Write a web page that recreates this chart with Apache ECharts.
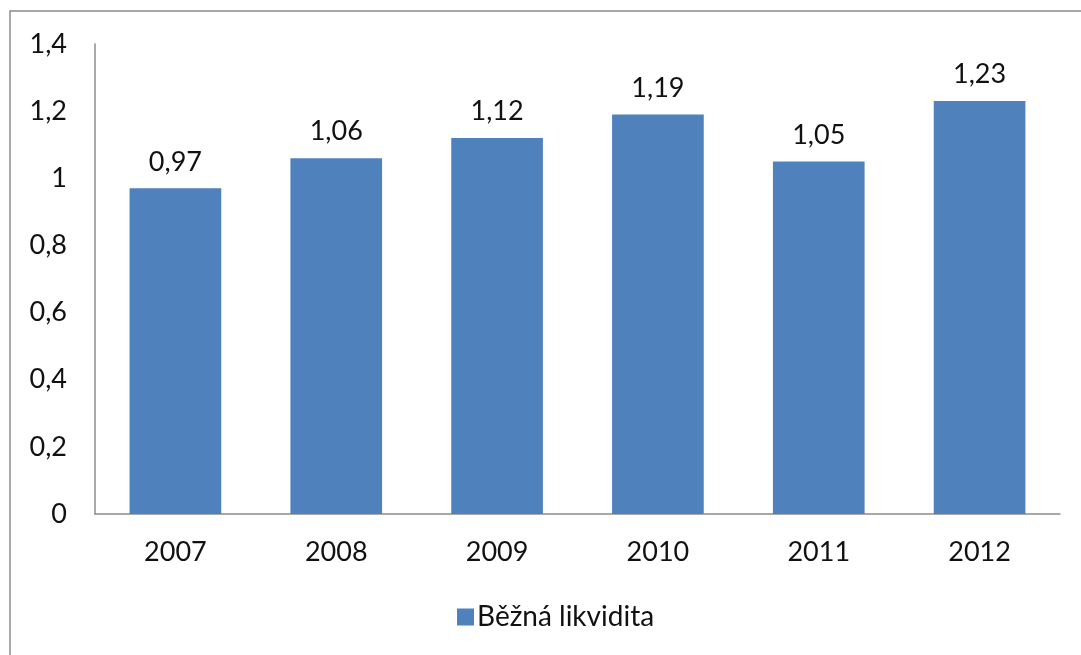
<!DOCTYPE html>
<html><head><meta charset="utf-8">
<script src="https://cdn.jsdelivr.net/npm/echarts@6/dist/echarts.min.js"></script>
<style>html,body{margin:0;padding:0;background:#fff}#c{width:1081px;height:655px}</style>
</head><body><div id="c"></div>
<script>
const categories = ['2007','2008','2009','2010','2011','2012'];
const values = [0.97, 1.06, 1.12, 1.19, 1.05, 1.23];
const seriesName = 'Běžná likvidita';
const fmt = v => String(Math.round(v*100)/100).replace('.', ',');
const FONT = 'Lato';
const chart = echarts.init(document.getElementById('c'));
chart.setOption({
  animation: false,
  backgroundColor: '#fff',
  graphic: [{type:'rect', shape:{x:10, y:11, width:1200, height:800}, style:{fill:'none', stroke:'#8c8c8c', lineWidth:1.5}, silent:true}],
  grid: {left:95, right:21, top:44, bottom:141, containLabel:false},
  legend: {top:603, left:457, padding:0, itemWidth:17, itemHeight:17, itemGap:4, icon:'rect',
    textStyle:{fontFamily:FONT, fontSize:28, color:'#111', padding:[0,0,0,-2]}, data:[seriesName]},
  xAxis: {type:'category', data:categories,
    axisLine:{lineStyle:{color:'#8c8c8c', width:1.5}}, axisTick:{show:false},
    axisLabel:{fontFamily:FONT, fontSize:27, color:'#111', margin:25}},
  yAxis: {type:'value', min:0, max:1.4, interval:0.2,
    axisLine:{show:true, lineStyle:{color:'#8c8c8c', width:1.5}}, axisTick:{show:false}, splitLine:{show:false},
    axisLabel:{fontFamily:FONT, fontSize:27, color:'#111', margin:28, formatter:fmt}},
  series: [{name:seriesName, type:'bar', data:values, barWidth:'57%', itemStyle:{color:'#4F81BD'},
    label:{show:true, position:'top', distance:13, formatter:p=>fmt(p.value), fontFamily:FONT, fontSize:27, color:'#111'}}]
});
</script></body></html>
